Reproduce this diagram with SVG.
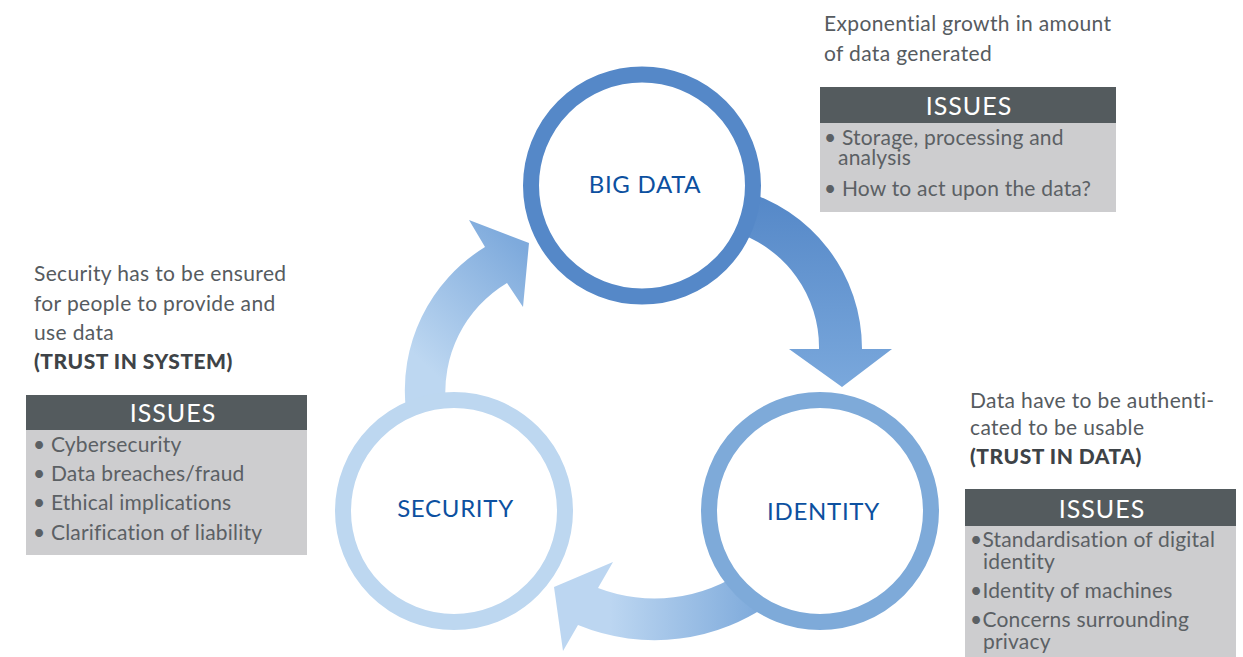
<svg xmlns="http://www.w3.org/2000/svg" width="1243" height="657" viewBox="0 0 1243 657">
<defs>
<linearGradient id="g1" gradientUnits="userSpaceOnUse" x1="0" y1="190" x2="0" y2="388">
<stop offset="0" stop-color="#5487c7"/><stop offset="1" stop-color="#7aa8dc"/>
</linearGradient>
<linearGradient id="g2" gradientUnits="userSpaceOnUse" x1="610" y1="0" x2="760" y2="0">
<stop offset="0" stop-color="#bcd6f1"/><stop offset="1" stop-color="#7eaadb"/>
</linearGradient>
<linearGradient id="g3" gradientUnits="userSpaceOnUse" x1="420" y1="360" x2="525" y2="250">
<stop offset="0" stop-color="#bdd7f1"/><stop offset="1" stop-color="#7eaadc"/>
</linearGradient>
<style>
.ring{fill:#fff;stroke-width:16}
.lbl{font-family:Lato,"Open Sans",sans-serif;font-size:24px;letter-spacing:0.7px;fill:#0c50a0;text-anchor:middle}
.desc{font-family:Lato,"Open Sans",sans-serif;font-size:21px;letter-spacing:0.35px;fill:#565b5f}
.bold{font-family:Lato,"Open Sans",sans-serif;font-size:21px;letter-spacing:0.5px;font-weight:900;fill:#3e4347}
.hdr{fill:#545b5e}
.body{fill:#cdcdcf}
.ht{font-family:Lato,"Open Sans",sans-serif;font-size:25px;letter-spacing:1px;fill:#fff;text-anchor:middle}
.it{font-family:Lato,"Open Sans",sans-serif;font-size:21px;letter-spacing:0.2px;fill:#5b6064}
</style>
</defs>
<g id="connectors">
<path d="M 740,190 A 164 164 0 0 1 862,349 L 892,349 L 842,387 L 789,349 L 819,349 A 121 121 0 0 0 735,232 Z" fill="url(#g1)"/>
<path d="M 745,570 A 158 158 0 0 1 598,588 L 613,562 L 554,587 L 563,651 L 578,625 A 201 201 0 0 0 775,600 Z" fill="url(#g2)"/>
<path d="M 406,410 A 168 168 0 0 1 485,247 L 469,220 L 529,243 L 523,307 L 507,283 A 127 127 0 0 0 446,405 Z" fill="url(#g3)"/>
</g>
<g id="big-data">
<circle class="ring" cx="642" cy="185.5" r="111" stroke="#5588c8"/>
<text class="lbl" x="645" y="193">BIG DATA</text>
</g>
<g id="security">
<circle class="ring" cx="454" cy="511" r="111" stroke="#bdd7f0"/>
<text class="lbl" x="455.5" y="517">SECURITY</text>
</g>
<g id="identity">
<circle class="ring" cx="820" cy="511" r="111" stroke="#7eaad9"/>
<text class="lbl" x="823.5" y="520">IDENTITY</text>
</g>
<g id="big-data-notes">
<text class="desc" x="824" y="31">Exponential growth in amount</text>
<text class="desc" x="824" y="61">of data generated</text>
<rect class="hdr" x="820" y="87" width="296" height="36"/>
<rect class="body" x="820" y="123" width="296" height="89"/>
<text class="ht" x="969" y="115">ISSUES</text>
<text class="it" x="824" y="145">• Storage, processing and</text>
<text class="it" x="838" y="165">analysis</text>
<text class="it" x="824" y="196">• How to act upon the data?</text>
</g>
<g id="security-notes">
<text class="desc" x="34" y="281">Security has to be ensured</text>
<text class="desc" x="34" y="311">for people to provide and</text>
<text class="desc" x="34" y="340">use data</text>
<text class="bold" x="34" y="369">(TRUST IN SYSTEM)</text>
<rect class="hdr" x="26" y="395" width="281" height="35"/>
<rect class="body" x="26" y="430" width="281" height="125"/>
<text class="ht" x="173" y="422">ISSUES</text>
<text class="it" x="33" y="452">• Cybersecurity</text>
<text class="it" x="33" y="481">• Data breaches/fraud</text>
<text class="it" x="33" y="510">• Ethical implications</text>
<text class="it" x="33" y="540">• Clarification of liability</text>
</g>
<g id="identity-notes">
<text class="desc" x="970" y="408">Data have to be authenti-</text>
<text class="desc" x="970" y="435">cated to be usable</text>
<text class="bold" x="970" y="464">(TRUST IN DATA)</text>
<rect class="hdr" x="965" y="489" width="271" height="37"/>
<rect class="body" x="965" y="526" width="271" height="131"/>
<text class="ht" x="1102" y="518">ISSUES</text>
<text class="it" x="970" y="547">•Standardisation of digital</text>
<text class="it" x="983" y="569">identity</text>
<text class="it" x="970" y="598">•Identity of machines</text>
<text class="it" x="970" y="627">•Concerns surrounding</text>
<text class="it" x="983" y="649">privacy</text>
</g>
</svg>
